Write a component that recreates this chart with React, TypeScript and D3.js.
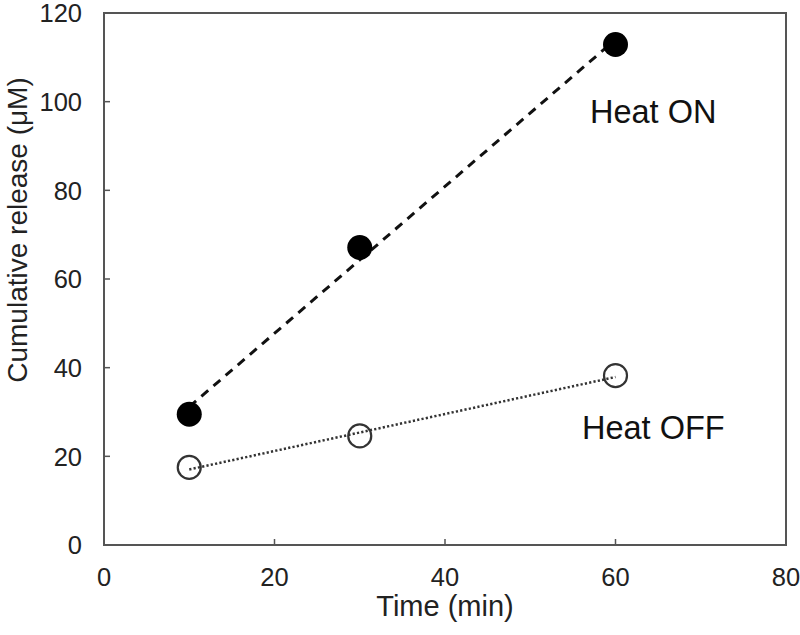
import React from "react";
import * as d3 from "d3";

const times = [10, 30, 60];
const heatOn = [29.5, 67.1, 112.9];
const heatOff = [17.5, 24.6, 38.2];
const xTicks = [0, 20, 40, 60, 80];
const yTicks = [0, 20, 40, 60, 80, 100, 120];

const W = 800;
const H = 635;
const M = { left: 104, right: 14, top: 13, bottom: 90 };
const FONT = "'Liberation Sans', Arial, sans-serif";

function fit(xs: number[], ys: number[]) {
  const mx = d3.mean(xs) as number;
  const my = d3.mean(ys) as number;
  let sxy = 0;
  let sxx = 0;
  xs.forEach((x, i) => {
    sxy += (x - mx) * (ys[i] - my);
    sxx += (x - mx) * (x - mx);
  });
  const slope = sxy / sxx;
  const intercept = my - slope * mx;
  return (x: number) => intercept + slope * x;
}

export default function App() {
  const x = d3.scaleLinear().domain([0, 80]).range([M.left, W - M.right]);
  const y = d3.scaleLinear().domain([0, 120]).range([H - M.bottom, M.top]);
  const x0 = x.range()[0];
  const x1 = x.range()[1];
  const y0 = y.range()[0];
  const y1 = y.range()[1];

  const onFit = fit(times, heatOn);
  const offFit = fit(times, heatOff);
  const ext = d3.extent(times) as [number, number];
  const line = d3
    .line<number[]>()
    .x((d) => x(d[0]))
    .y((d) => y(d[1]));
  const onLine = line(ext.map((t) => [t, onFit(t)]));
  const offLine = line(ext.map((t) => [t, offFit(t)]));

  const axisColor = "#555";
  return (
    <svg
      width={W}
      height={H}
      style={{ position: "absolute", left: 0, top: 0, background: "#fff" }}
      fontFamily={FONT}
    >
      <rect x={0} y={0} width={W} height={H} fill="#fff" />
      {/* ticks */}
      {yTicks.map((t) => (
        <g key={"y" + t}>
          <line x1={x0} x2={x0 + 6} y1={y(t)} y2={y(t)} stroke={axisColor} strokeWidth={1.5} />
          <text x={82} y={y(t)} dy="0.36em" textAnchor="end" fontSize={25.5} fill="#222">
            {t}
          </text>
        </g>
      ))}
      {xTicks.map((t) => (
        <g key={"x" + t}>
          <line x1={x(t)} x2={x(t)} y1={y0} y2={y0 - 6} stroke={axisColor} strokeWidth={1.5} />
          <text x={x(t)} y={586} textAnchor="middle" fontSize={25.5} fill="#222">
            {t}
          </text>
        </g>
      ))}
      {/* frame */}
      <rect
        x={x0}
        y={y1}
        width={x1 - x0}
        height={y0 - y1}
        fill="none"
        stroke={axisColor}
        strokeWidth={2}
      />
      {/* fit lines */}
      <path d={offLine || ""} fill="none" stroke="#333" strokeWidth={2.5} strokeDasharray="2.2 2.2" />
      <path d={onLine || ""} fill="none" stroke="#111" strokeWidth={3} strokeDasharray="9 7" />
      {/* markers */}
      {times.map((t, i) => (
        <circle key={"on" + i} cx={x(t)} cy={y(heatOn[i])} r={12.5} fill="#000" />
      ))}
      {times.map((t, i) => (
        <circle
          key={"off" + i}
          cx={x(t)}
          cy={y(heatOff[i])}
          r={11.5}
          fill="none"
          stroke="#333"
          strokeWidth={2.2}
        />
      ))}
      {/* annotations */}
      <text x={590} y={123} fontSize={32.5} fill="#111">
        Heat ON
      </text>
      <text x={582} y={439} fontSize={32.5} fill="#111">
        Heat OFF
      </text>
      {/* axis titles */}
      <text x={445} y={616} textAnchor="middle" fontSize={29} fill="#222">
        Time (min)
      </text>
      <text
        transform={`translate(27, 230) rotate(-90)`}
        textAnchor="middle"
        fontSize={28}
        fill="#222"
      >
        Cumulative release (μM)
      </text>
    </svg>
  );
}
